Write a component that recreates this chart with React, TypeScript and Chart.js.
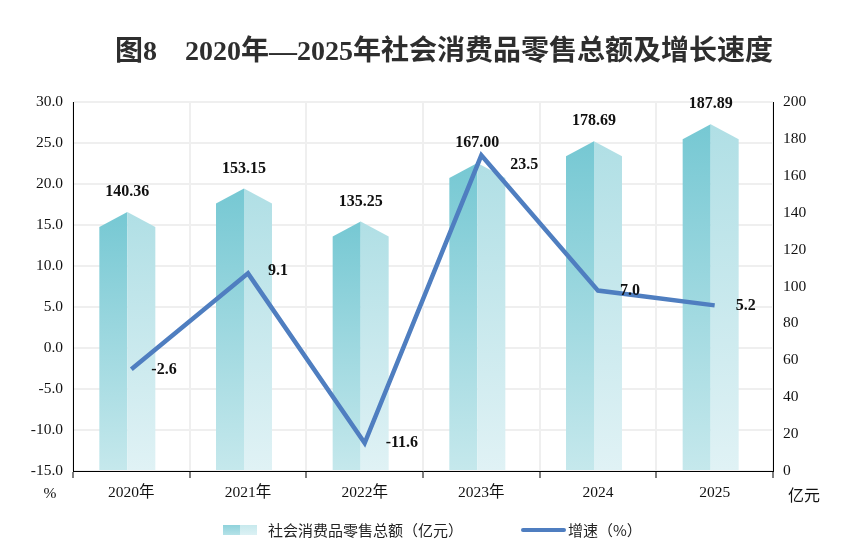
import React, { useEffect, useRef } from "react";
import { Chart, registerables } from "chart.js";

Chart.register(...registerables);

const years = ["2020年", "2021年", "2022年", "2023年", "2024", "2025"];
const retailSales = [140.36, 153.15, 135.25, 167.0, 178.69, 187.89];
const growthRate = [-2.6, 9.1, -11.6, 23.5, 7.0, 5.2];
const salesLabels = ["140.36", "153.15", "135.25", "167.00", "178.69", "187.89"];
const growthLabels = ["-2.6", "9.1", "-11.6", "23.5", "7.0", "5.2"];
const leftAxisRange = [-15, 30, 5];
const rightAxisRange = [0, 200, 20];

const TITLE = "图8　2020年—2025年社会消费品零售总额及增长速度";
const LEGEND_BAR = "社会消费品零售总额（亿元）";
const LEGEND_LINE = "增速（%）";

const LINE_COLOR = "#4f7ec0";
const SERIF = "'Liberation Serif', 'Noto Sans CJK SC', serif";
const CJK = "'Noto Sans CJK SC', sans-serif";
const BAR_SHIFT = -4;
const SHOULDER = 15;
const lineLabelNudge = [
  [20, 1],
  [20, -3],
  [21, 0],
  [29, 10],
  [22, 0],
  [21, 0],
];

const decorPlugin = {
  id: "decor",
  beforeDatasetsDraw(chart: any) {
    const ctx = chart.ctx as CanvasRenderingContext2D;
    const meta = chart.getDatasetMeta(0);
    const base = chart.scales.y1.getPixelForValue(0) - 1;
    ctx.save();
    meta.data.forEach((el: any) => {
      const { x, y, width } = el.getProps(["x", "y", "width"], true);
      const cx = x + BAR_SHIFT;
      const half = width / 2;
      const sh = y + SHOULDER;
      const gL = ctx.createLinearGradient(0, y, 0, base);
      gL.addColorStop(0, "#76c8d3");
      gL.addColorStop(1, "#c5e8ec");
      ctx.fillStyle = gL;
      ctx.beginPath();
      ctx.moveTo(cx - half, base);
      ctx.lineTo(cx - half, sh);
      ctx.lineTo(cx, y);
      ctx.lineTo(cx, base);
      ctx.closePath();
      ctx.fill();
      const gR = ctx.createLinearGradient(0, y, 0, base);
      gR.addColorStop(0, "#b0dfe5");
      gR.addColorStop(1, "#e0f2f5");
      ctx.fillStyle = gR;
      ctx.beginPath();
      ctx.moveTo(cx, base);
      ctx.lineTo(cx, y);
      ctx.lineTo(cx + half, sh);
      ctx.lineTo(cx + half, base);
      ctx.closePath();
      ctx.fill();
    });
    ctx.restore();
  },
  afterDatasetsDraw(chart: any) {
    const ctx = chart.ctx as CanvasRenderingContext2D;
    ctx.save();
    ctx.fillStyle = "#111";
    ctx.font = `bold 16px ${SERIF}`;
    ctx.textAlign = "center";
    ctx.textBaseline = "middle";
    chart.getDatasetMeta(0).data.forEach((el: any, i: number) => {
      const { x, y } = el.getProps(["x", "y"], true);
      ctx.fillText(salesLabels[i], x + BAR_SHIFT, y - 20);
    });
    ctx.textAlign = "left";
    chart.getDatasetMeta(1).data.forEach((el: any, i: number) => {
      const { x, y } = el.getProps(["x", "y"], true);
      const [dx, dy] = lineLabelNudge[i];
      ctx.fillText(growthLabels[i], x + dx, y + dy);
    });
    ctx.restore();
  },
  afterDraw(chart: any) {
    const ctx = chart.ctx as CanvasRenderingContext2D;
    const area = chart.chartArea;
    ctx.save();
    // title
    ctx.fillStyle = "#2e2e2e";
    ctx.font = `bold 28px ${SERIF}`;
    ctx.textAlign = "center";
    ctx.textBaseline = "middle";
    ctx.fillText(TITLE, 444, 53);
    // unit labels
    ctx.fillStyle = "#111";
    ctx.font = `15.5px ${SERIF}`;
    ctx.textAlign = "center";
    ctx.fillText("%", 50, area.bottom + 23);
    ctx.font = `16px ${CJK}`;
    ctx.textAlign = "left";
    ctx.fillText("亿元", 788, area.bottom + 24);
    // legend
    const ly = 530;
    const gL = ctx.createLinearGradient(0, ly - 5, 0, ly + 5);
    gL.addColorStop(0, "#8fd2db");
    gL.addColorStop(1, "#b5e2e8");
    ctx.fillStyle = gL;
    ctx.fillRect(223, ly - 5, 17, 10);
    const gR = ctx.createLinearGradient(0, ly - 5, 0, ly + 5);
    gR.addColorStop(0, "#c7e9ed");
    gR.addColorStop(1, "#dcf1f4");
    ctx.fillStyle = gR;
    ctx.fillRect(240, ly - 5, 17, 10);
    ctx.fillStyle = "#222";
    ctx.font = `15px ${CJK}`;
    ctx.textBaseline = "middle";
    ctx.fillText(LEGEND_BAR, 268, ly);
    ctx.strokeStyle = LINE_COLOR;
    ctx.lineWidth = 4;
    ctx.lineCap = "round";
    ctx.beginPath();
    ctx.moveTo(523, ly);
    ctx.lineTo(564, ly);
    ctx.stroke();
    ctx.fillText(LEGEND_LINE, 568, ly);
    ctx.restore();
  },
};

export default function App() {
  const canvasRef = useRef<HTMLCanvasElement | null>(null);

  useEffect(() => {
    if (!canvasRef.current) return;
    const tickFont = { family: SERIF, size: 15.5 };
    const chart = new Chart(canvasRef.current, {
      type: "bar",
      data: {
        labels: years,
        datasets: [
          {
            type: "bar",
            label: LEGEND_BAR,
            data: retailSales,
            yAxisID: "y1",
            backgroundColor: "rgba(0,0,0,0)",
            barPercentage: 0.48,
            categoryPercentage: 1,
            order: 2,
          } as any,
          {
            type: "line",
            label: LEGEND_LINE,
            data: growthRate,
            yAxisID: "y",
            borderColor: LINE_COLOR,
            backgroundColor: LINE_COLOR,
            borderWidth: 4.5,
            borderJoinStyle: "miter",
            pointRadius: 0,
            tension: 0,
            order: 1,
          } as any,
        ],
      },
      options: {
        responsive: false,
        animation: false,
        layout: { padding: { top: 102, left: 0, right: 0, bottom: 0 } },
        plugins: {
          legend: { display: false },
          tooltip: { enabled: false },
          title: { display: false },
        },
        scales: {
          x: {
            type: "category",
            offset: true,
            grid: {
              display: true,
              offset: true,
              color: "#efefef",
              lineWidth: 2,
              tickColor: "#000",
              tickWidth: 1,
              tickLength: 7,
            },
            border: { display: true, color: "#000", width: 1 },
            ticks: { font: tickFont, color: "#111", padding: 6 },
            afterFit: (s: any) => {
              s.height = 555 - 471;
            },
          },
          y: {
            type: "linear",
            position: "left",
            min: leftAxisRange[0],
            max: leftAxisRange[1],
            ticks: {
              stepSize: leftAxisRange[2],
              font: tickFont,
              color: "#111",
              padding: 10,
              callback: (v: any) => Number(v).toFixed(1),
            },
            grid: { color: "#efefef", lineWidth: 2, drawTicks: false },
            border: { display: true, color: "#000", width: 1 },
            afterFit: (s: any) => {
              s.width = 73;
            },
          },
          y1: {
            type: "linear",
            position: "right",
            min: rightAxisRange[0],
            max: rightAxisRange[1],
            ticks: {
              stepSize: rightAxisRange[2],
              font: tickFont,
              color: "#111",
              padding: 10,
            },
            grid: { display: false, drawTicks: false },
            border: { display: true, color: "#000", width: 1 },
            afterFit: (s: any) => {
              s.width = 845 - 773;
            },
          },
        },
      } as any,
      plugins: [decorPlugin],
    });
    return () => chart.destroy();
  }, []);

  return (
    <div
      style={{
        position: "absolute",
        left: 0,
        top: 0,
        width: 845,
        height: 555,
        background: "#fff",
      }}
    >
      <canvas ref={canvasRef} width={845} height={555} />
    </div>
  );
}
